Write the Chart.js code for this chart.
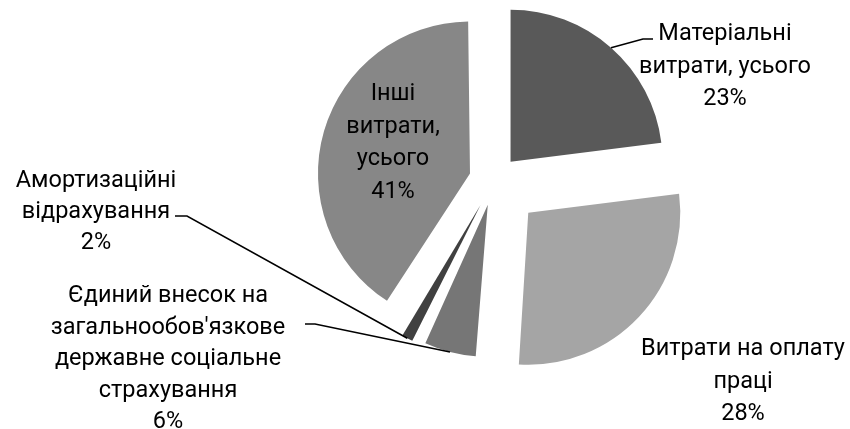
<!DOCTYPE html>
<html>
<head>
<meta charset="utf-8">
<script src="https://cdn.jsdelivr.net/npm/chart.js@4/dist/chart.umd.min.js"></script>
<style>
  html, body { margin: 0; padding: 0; background: #fff; }
  #wrap { width: 850px; height: 429px; position: relative; }
</style>
</head>
<body>
<div id="wrap"><canvas id="pie"></canvas></div>
<script>
// slice names (split into lines as in the picture) and shares, %
const categories = [
    ["Матеріальні", "витрати, усього"],
    ["Витрати на оплату", "праці"],
    ["Єдиний внесок на", "загальнообов'язкове", "державне соціальне", "страхування"],
    ["Амортизаційні", "відрахування"],
    ["Інші", "витрати,", "усього"],
];
const shares = [23, 28, 6, 2, 41];

const sliceColors = ["#595959", "#a5a5a5", "#767676", "#404040", "#878787"];
// explosion of each slice in px (chart.js draws offset / 4)
const explode = [25, 47, 25, 28, 25];
const RADIUS = 152;
const FONT = "23.5px Roboto";

// where each label sits: first baseline, centre x, optional leader elbow
const labelSpots = [
    { x: 725, y: 40, pitch: 32.5, elbow: [[653, 39], [643, 39]] },
    { x: 743, y: 355, pitch: 32.5 },
    { x: 168, y: 302, pitch: 31.5, elbow: [[305, 324], [315, 324]] },
    { x: 96, y: 187, pitch: 31, elbow: [[175, 216], [187, 216]] },
    { x: 393, y: 100, pitch: 32.5 },
];

// chart.js enlarges narrow / wide exploded arcs, undo that so all share one radius
const radiusFix = {
    id: "radiusFix",
    afterDatasetUpdate(chart, args) {
        args.meta.data.forEach((arc, i) => {
            const circ = arc.endAngle - arc.startAngle;
            const fix = 1 - Math.sin(Math.min(Math.PI, circ));
            arc.outerRadius = RADIUS - explode[i] * fix;
        });
    },
};

const sliceLabels = {
    id: "sliceLabels",
    afterDraw(chart) {
        const ctx = chart.ctx;
        const arcs = chart.getDatasetMeta(0).data;
        ctx.save();
        ctx.font = FONT;
        ctx.fillStyle = "#000";
        ctx.textAlign = "center";
        ctx.textBaseline = "alphabetic";
        arcs.forEach((arc, i) => {
            const spot = labelSpots[i];
            const lines = categories[i].concat([shares[i] + "%"]);
            lines.forEach((t, k) => ctx.fillText(t, spot.x, spot.y + k * spot.pitch));
            if (spot.elbow) {
                const mid = (arc.startAngle + arc.endAngle) / 2;
                const cx = arc.x + Math.cos(mid) * explode[i];
                const cy = arc.y + Math.sin(mid) * explode[i];
                ctx.beginPath();
                ctx.moveTo(spot.elbow[0][0], spot.elbow[0][1]);
                ctx.lineTo(spot.elbow[1][0], spot.elbow[1][1]);
                ctx.lineTo(cx + Math.cos(mid) * RADIUS, cy + Math.sin(mid) * RADIUS);
                ctx.strokeStyle = "#000";
                ctx.lineWidth = 1.5;
                ctx.stroke();
            }
        });
        ctx.restore();
    },
};

new Chart(document.getElementById("pie"), {
    type: "pie",
    data: {
        labels: categories.map(c => c.join(" ")),
        datasets: [{
            data: shares,
            backgroundColor: sliceColors,
            borderWidth: 0,
            offset: explode.map(e => e * 4),
        }],
    },
    options: {
        responsive: true,
        maintainAspectRatio: false,
        animation: false,
        radius: RADIUS,
        layout: {
            padding: { left: 138, right: 0, top: 0, bottom: 68 },
        },
        plugins: {
            legend: { display: false },
            tooltip: { enabled: false },
        },
    },
    plugins: [radiusFix, sliceLabels],
});
</script>
</body>
</html>
